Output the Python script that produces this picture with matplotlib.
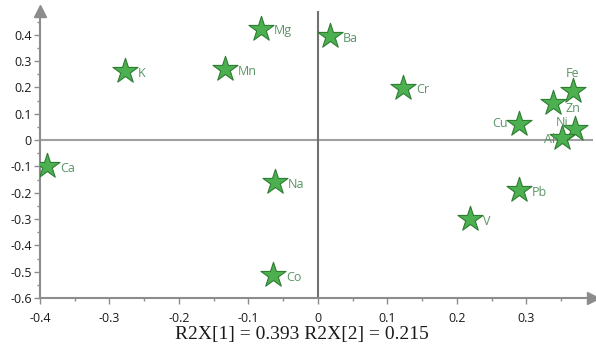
import matplotlib
matplotlib.use("Agg")
import matplotlib.pyplot as plt
from matplotlib.ticker import MultipleLocator

elements = ["Mg", "K", "Mn", "Ca", "Na", "Co", "Ba", "Cr", "Cu", "Fe", "Zn", "Ni", "Al", "Pb", "V"]
pc1 = [-0.082, -0.278, -0.134, -0.390, -0.062, -0.065, 0.017, 0.122, 0.289, 0.367, 0.338, 0.370, 0.351, 0.289, 0.219]
pc2 = [0.422, 0.262, 0.270, -0.099, -0.160, -0.513, 0.395, 0.198, 0.061, 0.186, 0.141, 0.042, 0.008, -0.190, -0.300]
x_ticks = [-0.4, -0.3, -0.2, -0.1, 0, 0.1, 0.2, 0.3]
y_ticks = [-0.6, -0.5, -0.4, -0.3, -0.2, -0.1, 0, 0.1, 0.2, 0.3, 0.4]
xlabel = "R2X[1] = 0.393 R2X[2] = 0.215"

# label offsets (points) and alignment
offsets = {
    "Fe": (0, 8, "center", "bottom"),
    "Zn": (9, -4, "left", "center"),
    "Cu": (-8, 0, "right", "center"),
    "Ni": (-5, 5, "right", "center"),
    "Al": (-5, -1, "right", "center"),
}

fig = plt.figure(figsize=(5.96, 3.47), dpi=100)
ax = fig.add_axes([40/596, 49/347, 552.5/596, 287/347])
ax.set_xlim(-0.4, 0.395)
ax.set_ylim(-0.6, 0.49)

gray = "#8c8c8c"
for s in ["top", "right"]:
    ax.spines[s].set_visible(False)
for s in ["left", "bottom"]:
    ax.spines[s].set_color(gray)
    ax.spines[s].set_linewidth(1.5)

ax.axhline(0, color="#a0a0a0", lw=1.5, zorder=1)
ax.axvline(0, color="#707070", lw=1.5, zorder=1)

# arrow heads
ax.plot([-0.4], [0.49], marker="^", color=gray, ms=9, clip_on=False, zorder=3)
ax.plot([0.395], [-0.6], marker=">", color=gray, ms=9, clip_on=False, zorder=3)

ax.scatter(pc1, pc2, marker="*", s=360, color="#4caf50", edgecolor="#2e7d32", linewidth=0.8, zorder=4)

for name, x, y in zip(elements, pc1, pc2):
    dx, dy, ha, va = offsets.get(name, (9.5, -1.5, "left", "center"))
    ax.annotate(name, (x, y), xytext=(dx, dy), textcoords="offset points",
                ha=ha, va=va, fontsize=9, color="#5a9466", family="Open Sans", zorder=5)

ax.set_xticks(x_ticks)
ax.set_xticklabels(["-0.4", "-0.3", "-0.2", "-0.1", "0", "0.1", "0.2", "0.3"])
ax.set_yticks(y_ticks)
ax.set_yticklabels(["-0.6", "-0.5", "-0.4", "-0.3", "-0.2", "-0.1", "0", "0.1", "0.2", "0.3", "0.4"])
ax.xaxis.set_minor_locator(MultipleLocator(0.05))
ax.yaxis.set_minor_locator(MultipleLocator(0.05))
ax.tick_params(which="major", length=4, width=1, color=gray, labelsize=9, labelcolor="#1a1a1a")
ax.tick_params(axis="x", which="major", pad=6)
ax.tick_params(axis="y", which="major", pad=2)
ax.tick_params(which="minor", length=2.5, width=1, color=gray)
for lab in ax.get_xticklabels() + ax.get_yticklabels():
    lab.set_family("Open Sans")

fig.text(302/596, 12/347, xlabel, family="Liberation Serif", fontsize=14, color="#1a1a1a",
         ha="center", va="center")

fig.savefig("out.png", dpi=100)
